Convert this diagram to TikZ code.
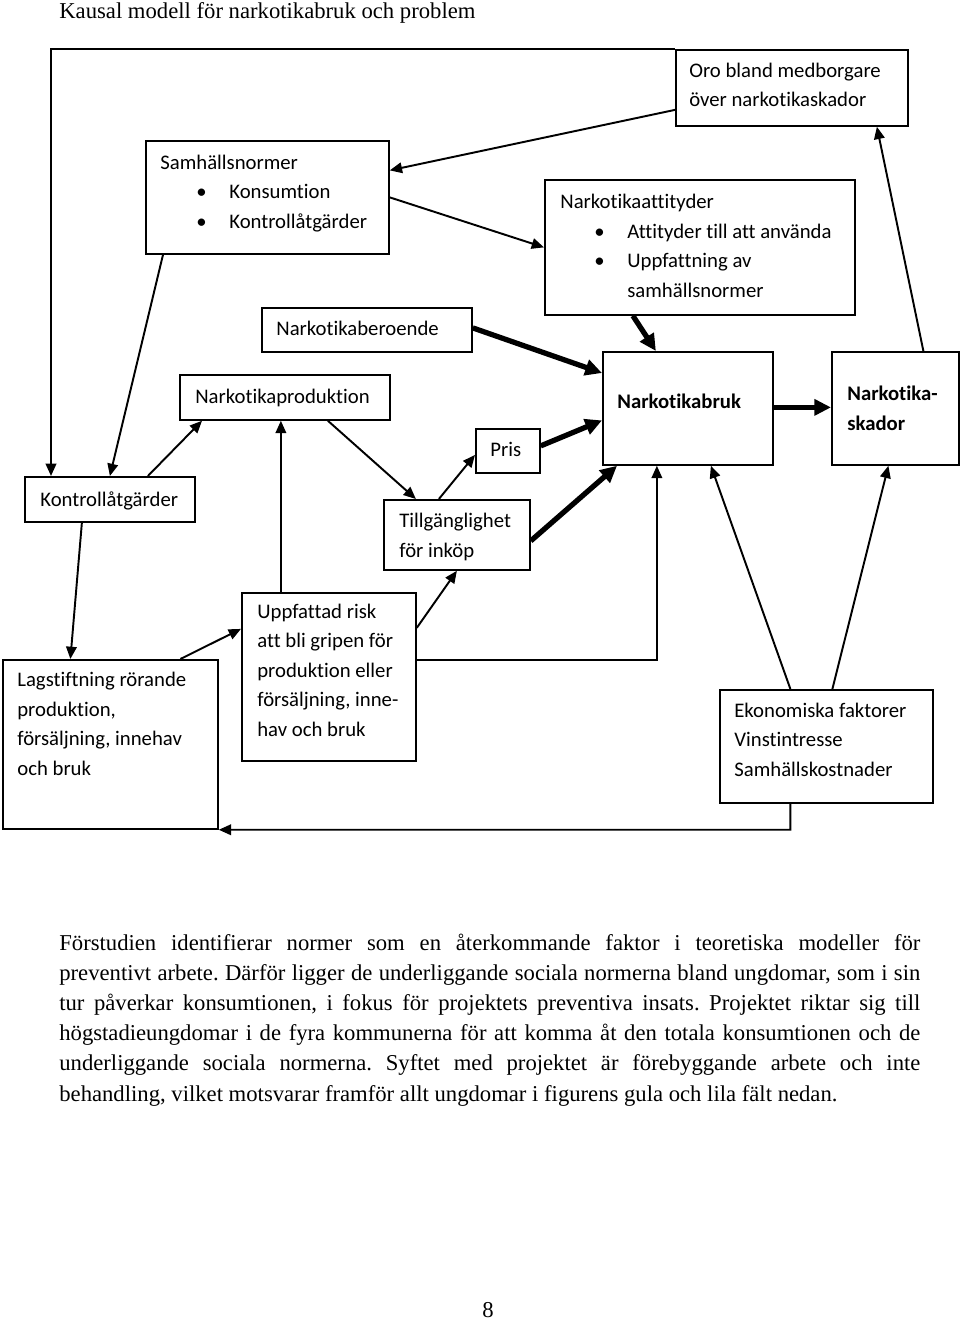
\documentclass[tikz,border=0pt]{standalone}
\usepackage{fontspec}
\setmainfont{Liberation Serif}
\newfontfamily\boxfont[Ligatures=NoCommon]{Carlito}
\usetikzlibrary{arrows.meta}
\frenchspacing
\newcommand\blitem{\hspace*{7.2mm}\makebox[6.6mm][l]{\textbullet}}
\tikzset{
  box/.style={draw=black, line width=1pt, inner sep=0, anchor=north west},
  boxtext/.style={font=\boxfont\fontsize{11.8}{16.7}\selectfont, inner sep=0, align=left, anchor=base west},
  link/.style={draw=black, line width=1.1pt, -{Triangle[length=7pt,width=6pt]}},
  heavylink/.style={draw=black, line width=3pt, -{Triangle[length=9.5pt,width=9pt]}},
  prose/.style={font=\fontsize{12.9}{17.2}\selectfont, inner sep=0, anchor=base west},
}

\begin{document}
\begin{tikzpicture}[x=0.2mm, y=-0.2mm]
\useasboundingbox (0,0) rectangle (960,1321);
\node[prose] (title) at (59,19) {Kausal modell för narkotikabruk och problem};
\node[box, minimum width=46.4mm, minimum height=15.2mm] (oro) at (675,49) {};
\node[box, minimum width=48.6mm, minimum height=22.6mm] (sam) at (145,140) {};
\node[box, minimum width=62mm, minimum height=27mm] (att) at (544,179) {};
\node[box, minimum width=42mm, minimum height=8.8mm] (ber) at (261,307) {};
\node[box, minimum width=42mm, minimum height=9mm] (prod) at (179,374) {};
\node[box, minimum width=34mm, minimum height=9mm] (kon) at (24,476) {};
\node[box, minimum width=29.2mm, minimum height=14mm] (till) at (383,499) {};
\node[box, minimum width=12.8mm, minimum height=8.8mm] (pris) at (475,428) {};
\node[box, minimum width=34mm, minimum height=22.6mm] (bruk) at (602,351) {};
\node[box, minimum width=25.4mm, minimum height=22.6mm] (skad) at (831,351) {};
\node[box, minimum width=43mm, minimum height=33.8mm] (lag) at (2,659) {};
\node[box, minimum width=34.8mm, minimum height=33.6mm] (risk) at (241,592) {};
\node[box, minimum width=42.6mm, minimum height=22.6mm] (eko) at (719,689) {};
\node[boxtext] (orotxt) at (689,107) {Oro bland medborgare\\över narkotikaskador};
\node[boxtext] (samtxt) at (160,228) {Samhällsnormer\\\blitem Konsumtion\\\blitem Kontrollåtgärder};
\node[boxtext] (atttxt) at (560,297) {Narkotikaattityder\\\hspace*{-0.4mm}\blitem Attityder till att använda\\\hspace*{-0.4mm}\blitem Uppfattning av\\\hspace*{13.4mm}samhällsnormer};
\node[boxtext] (bertxt) at (276,335) {Narkotikaberoende};
\node[boxtext] (prodtxt) at (195,403) {Narkotikaproduktion};
\node[boxtext] (kontxt) at (40,506) {Kontrollåtgärder};
\node[boxtext] (tilltxt) at (399,557) {Tillgänglighet\\för inköp};
\node[boxtext] (pristxt) at (490,456) {Pris};
\node[boxtext, font=\boxfont\bfseries\fontsize{11.8}{16.7}\selectfont] (bruktxt) at (617,408) {Narkotikabruk};
\node[boxtext, font=\boxfont\bfseries\fontsize{11.8}{16.7}\selectfont] (skadtxt) at (847,430) {Narkotika-\\skador};
\node[boxtext] (lagtxt) at (17,775) {Lagstiftning rörande\\produktion,\\försäljning, innehav\\och bruk};
\node[boxtext] (risktxt) at (257,736) {Uppfattad risk\\att bli gripen för\\produktion eller\\försäljning, inne-\\hav och bruk};
\node[boxtext] (ekotxt) at (734,776) {Ekonomiska faktorer\\Vinstintresse\\Samhällskostnader};
\coordinate (corner) at (51,49);
\draw[link] (oro.north west) -- (corner) -- (corner |- kon.north);
\draw[link] ([shift={(0,22)}]oro.west) -- ([shift={(0,-27)}]sam.east);
\draw[link] (sam.east) -- (att.west);
\draw[link] ([shift={(18,0)}]sam.south west) -- (kon.north);
\draw[link] ([shift={(38,0)}]kon.north) -- ([shift={(23,0)}]prod.south west);
\draw[link] ([shift={(-28,0)}]kon.south) -- ([shift={(-40,0)}]lag.north);
\draw[link] ([shift={(43,0)}]prod.south) -- ([shift={(-41,0)}]till.north);
\draw[link] ([shift={(-48,0)}]risk.north) coordinate (rp) -- (rp |- prod.south);
\draw[link] ([shift={(70,0)}]lag.north) -- ([shift={(0,-48)}]risk.west);
\draw[link] ([shift={(0,-49)}]risk.east) -- (till.south);
\draw[link] ([shift={(-18,0)}]till.north) -- ([shift={(0,4)}]pris.west);
\draw[heavylink] ([shift={(0,6)}]till.east) -- ([shift={(15,0)}]bruk.south west);
\draw[heavylink] ([shift={(0,-5)}]pris.east) -- ([shift={(0,12)}]bruk.west);
\draw[heavylink] ([shift={(0,-2)}]ber.east) -- ([shift={(0,22)}]bruk.north west);
\draw[heavylink] ([shift={(-67,0)}]att.south) -- ([shift={(-32,0)}]bruk.north);
\draw[heavylink] ([shift={(0,-1)}]bruk.east) -- ([shift={(0,-1)}]skad.west);
\draw[link] ([shift={(28,0)}]skad.north) -- ([shift={(85,0)}]oro.south);
\draw[link] ([shift={(0,-17)}]risk.east) -| ([shift={(-31,0)}]bruk.south);
\draw[link] ([shift={(-36,0)}]eko.north) -- ([shift={(23,0)}]bruk.south);
\draw[link] ([shift={(6,0)}]eko.north) -- ([shift={(-7,0)}]skad.south);
\draw[link] ([shift={(-36,0)}]eko.south) -| ++(0,26) -- (lag.south east);
\node[prose, text width=172.2mm, align=justify] (body) at (59,950) {Förstudien identifierar normer som en återkommande faktor i teoretiska modeller för\linebreak preventivt arbete. Därför ligger de underliggande sociala normerna bland ungdomar, som i sin\linebreak tur påverkar konsumtionen, i fokus för projektets preventiva insats. Projektet riktar sig till\linebreak högstadieungdomar i de fyra kommunerna för att komma åt den totala konsumtionen och de\linebreak underliggande sociala normerna. Syftet med projektet är förebyggande arbete och inte\linebreak behandling, vilket motsvarar framför allt ungdomar i figurens gula och lila fält nedan.};
\node[prose, anchor=base] (page) at (488,1317) {8};
\end{tikzpicture}
\end{document}
